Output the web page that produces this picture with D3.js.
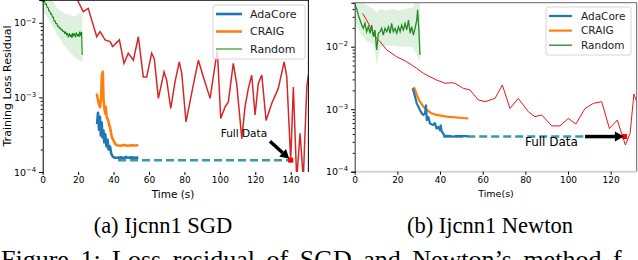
<!DOCTYPE html>
<html>
<head>
<meta charset="utf-8">
<script src="https://cdn.jsdelivr.net/npm/d3@7"></script>
<style>
body { margin: 0; background: #fff; }
svg { display: block; font-family: "DejaVu Sans", sans-serif; }
</style>
</head>
<body>
<svg width="638" height="260"></svg>
<script>
// ---- data: (time s, loss residual) ----
const sgdFull = [[19,2.5e-2],[20.1,1.91e-2],[22.9,1.41e-2],[25.7,1.56e-2],[30.5,6.5e-3],[32.4,7.6e-3],[35.2,5.9e-3],[38,5.6e-3],[39.5,4.8e-3],[43.3,5.9e-3],[45.9,2.85e-3],[48.3,3.9e-3],[51.2,3.15e-3],[54,6.5e-3],[56.8,1.88e-3],[58.7,1.88e-3],[61.5,3.9e-3],[63,3.3e-3],[65.3,9.7e-4],[68.5,2.2e-3],[70,1.7e-3],[72.3,7.1e-4],[74.7,1.61e-3],[77.1,3.0e-3],[78.5,2.1e-3],[80.9,4.7e-4],[85,1.46e-3],[87.9,3.15e-3],[90.7,1.88e-3],[94.5,9.7e-4],[96.3,1.88e-3],[98.6,4.3e-3],[100.5,5.2e-4],[102.9,7.4e-4],[104.8,8.7e-4],[107.6,2.85e-3],[109.5,1.54e-3],[112.4,2.8e-4],[114.2,7.4e-4],[116.1,1.32e-3],[118,1.99e-3],[119.9,5.8e-4],[121.7,1.54e-3],[123.7,1.99e-3],[126.1,4.9e-4],[129.3,8.3e-4],[133,1.32e-3],[136.3,3.0e-3],[137.8,1.88e-3],[140,1.44e-4],[141.5,1.38e-3],[143.4,8e-5],[145.3,3.3e-4],[147.1,8e-5],[149.1,1.38e-3],[150,2e-3]];
const sgdRandom = [[0,2.1e-2],[0.5,1.9e-2],[1,2.0e-2],[1.5,1.75e-2],[2,1.8e-2],[2.5,1.6e-2],[3,1.62e-2],[3.5,1.42e-2],[4,1.45e-2],[4.5,1.3e-2],[5,1.33e-2],[5.5,1.18e-2],[6,1.2e-2],[6.5,1.04e-2],[7,1.07e-2],[7.5,9.6e-3],[8,9.9e-3],[8.5,8.8e-3],[9,9.1e-3],[9.5,8.3e-3],[10,8.6e-3],[10.5,7.9e-3],[11,8.2e-3],[11.5,7.5e-3],[12,7.8e-3],[12.5,7.1e-3],[13,7.6e-3],[13.5,6.8e-3],[14,7.3e-3],[14.5,6.4e-3],[15,7.2e-3],[15.5,6.5e-3],[16,7.0e-3],[16.5,6.3e-3],[17,7.3e-3],[17.5,6.6e-3],[18,7.2e-3],[18.5,6.4e-3],[19,7.4e-3],[19.5,6.6e-3],[20,7.1e-3],[20.5,6.5e-3],[21,7.6e-3],[21.5,6.7e-3],[22,7.5e-3],[22.3,3.7e-3]];
const sgdBandT = [0,2,4,6,8,10,12,14,16,18,20,22,22.4];
const sgdBandHi = [2.6e-2,2.5e-2,2.2e-2,1.9e-2,1.6e-2,1.45e-2,1.35e-2,1.3e-2,1.25e-2,1.2e-2,1.3e-2,1.4e-2,1.2e-2];
const sgdBandLo = [1.5e-2,1.25e-2,1.05e-2,8.5e-3,7.0e-3,6.0e-3,5.0e-3,4.4e-3,3.9e-3,3.5e-3,3.2e-3,3.0e-3,2.9e-3];
const sgdAdaCore = [[30.7,4.4e-4],[31.2,6.2e-4],[31.8,3.7e-4],[32.3,5.5e-4],[32.8,3.1e-4],[33.3,4.6e-4],[33.8,2.9e-4],[34.3,3.6e-4],[34.8,2.5e-4],[35.3,3.2e-4],[36,2.2e-4],[36.6,2.7e-4],[37.2,2.0e-4],[38,2.2e-4],[38.7,1.75e-4],[39.5,1.62e-4],[40.5,1.56e-4],[42,1.55e-4],[44,1.57e-4],[46,1.54e-4],[47,1.6e-4],[48,1.55e-4],[50,1.57e-4],[52,1.55e-4],[54,1.56e-4]];
const sgdCraig = [[30.5,1.13e-3],[31.2,9.2e-4],[31.8,8e-4],[32.4,7.4e-4],[33,1.0e-3],[33.4,2.0e-3],[33.9,2.2e-3],[34.3,1.0e-3],[34.6,8e-4],[35.2,6.1e-4],[35.6,7.5e-4],[36.1,5.5e-4],[37,4.9e-4],[37.5,4.3e-4],[38,4.0e-4],[39,2.95e-4],[39.9,2.67e-4],[40.8,2.4e-4],[41.8,2.28e-4],[44,2.25e-4],[46,2.3e-4],[48,2.25e-4],[50,2.28e-4],[52,2.27e-4],[54,2.28e-4]];
const sgdDash = [[42.5,1.44e-4],[140,1.44e-4]];
const sgdFullPoint = [140,1.44e-4];

const newtonFull = [[3.75,3.4e-2],[5.6,2.67e-2],[7.2,2.09e-2],[9.5,1.45e-2],[11.9,1.2e-2],[15,8.9e-3],[19.7,6.9e-3],[24.4,5.75e-3],[29.1,4.5e-3],[32.2,3.75e-3],[35.3,3.3e-3],[38.4,2.93e-3],[42.3,2.6e-3],[45.5,2.65e-3],[47,2.6e-3],[50.9,2.16e-3],[54.1,2.03e-3],[57.9,1.41e-3],[61.1,1.32e-3],[65.8,1.49e-3],[69.2,2.44e-3],[72.8,1.03e-3],[76.7,1.49e-3],[81.4,9.1e-4],[84.5,7.6e-4],[87.7,8.1e-4],[92.4,5.4e-4],[96.2,5.4e-4],[100.1,7.1e-4],[103.7,5.8e-4],[108,1.03e-3],[111.9,1.24e-3],[115.8,1.32e-3],[119.4,4.9e-4],[123.1,6.7e-4],[126.9,2.67e-4],[129.1,4.1e-4],[130.9,1.75e-3],[132.2,1.32e-3]];
const newtonRandomT = [0.1,0.9,1.7,2.5,3.3,4.05,4.8,5.6,6.4,7.2,8.0,8.7,9.5,10.3,11.1,11.9,12.6,13.4,14.2,15.0,15.8,16.6,17.3,18.1,18.9,19.7,20.5,21.3,22.0,22.8,23.6,24.4,25.2,26.0,26.7,27.5,28.3,29.1,29.5,30.1,30.6];
const newtonRandomV = [4.65e-2,4.1e-2,3.2e-2,2.67e-2,2.22e-2,1.97e-2,2.36e-2,1.74e-2,2.09e-2,1.64e-2,2.22e-2,1.45e-2,1.85e-2,8.9e-3,1.64e-2,1.74e-2,1.97e-2,1.54e-2,1.97e-2,1.74e-2,2.09e-2,1.64e-2,2.36e-2,1.74e-2,1.97e-2,1.64e-2,2.09e-2,1.74e-2,2.22e-2,1.85e-2,2.36e-2,1.85e-2,2.67e-2,1.64e-2,2.09e-2,1.54e-2,1.97e-2,2.67e-2,3.9e-2,1.85e-2,7.4e-3];
const newtonBandT = [0,3,6,9,10.3,12,15,18,21,24,27,29.5,30.6];
const newtonBandHi = [6e-2,5.5e-2,4.5e-2,4e-2,3.5e-2,4e-2,3.8e-2,4e-2,3.8e-2,4e-2,4.2e-2,6e-2,5e-2];
const newtonBandLo = [2.5e-2,1.6e-2,1.2e-2,1.1e-2,5e-3,1.0e-2,1.05e-2,1.05e-2,1.0e-2,1.0e-2,1.0e-2,7e-3,5.7e-3];
const newtonAdaCore = [[27.2,2.16e-3],[28.3,1.58e-3],[29.1,1.24e-3],[30.6,9.7e-4],[31.5,8.5e-4],[32.2,8.1e-4],[33,8.6e-4],[33.4,1.15e-3],[33.8,6.7e-4],[34.5,7.5e-4],[35.3,5.9e-4],[36.8,5.6e-4],[37.6,6.0e-4],[38.4,4.9e-4],[39.2,5.2e-4],[40,4.6e-4],[40.3,5.5e-4],[40.8,4.4e-4],[42.3,3.7e-4],[44,3.75e-4],[46,3.65e-4],[48,3.7e-4],[50,3.7e-4],[53.3,3.7e-4]];
const newtonCraig = [[27.5,2.24e-3],[28.2,2.1e-3],[29.1,1.69e-3],[30.6,1.32e-3],[32.2,1.1e-3],[33.8,9.7e-4],[36.1,8.6e-4],[38.4,8.1e-4],[43.1,7.6e-4],[53.3,7.1e-4]];
const newtonDash = [[41.5,3.65e-4],[126.5,3.65e-4]];
const newtonFullPoint = [126.5,3.65e-4];

const legendNames = ["AdaCore", "CRAIG", "Random"];
const xTicksSgd = [0,20,40,60,80,100,120,140];
const xTicksNewton = [0,20,40,60,80,100,120];
const decades = [1e-4, 1e-3, 1e-2];

const svg = d3.select("svg");
const zip = (t, v) => t.map((d, i) => [d, v[i]]);

function superLabel(sel) {
	sel.each(function (d) {
		const t = d3.select(this).text(null);
		t.append("tspan").text("10");
		t.append("tspan").attr("dy", "-0.55em").attr("font-size", "0.72em").text("\u2212" + Math.round(-Math.log10(d)));
	});
}

function arrow(g, x1, y1, x2, y2) {
	const ang = Math.atan2(y2 - y1, x2 - x1), L = 9, W = 5;
	const bx = x2 - L * Math.cos(ang), by = y2 - L * Math.sin(ang);
	g.append("line").attr("x1", x1).attr("y1", y1).attr("x2", bx).attr("y2", by)
		.attr("stroke", "#000").attr("stroke-width", 3.5);
	const px = -Math.sin(ang) * W, py = Math.cos(ang) * W;
	g.append("path")
		.attr("d", `M${x2},${y2}L${bx + px},${by + py}L${bx - px},${by - py}Z`)
		.attr("fill", "#000");
}

function panel(c) {
	const x = d3.scaleLinear().domain(c.xDomain).range(c.xRange);
	const y = d3.scaleLog().domain(c.yDomain).range(c.yRange);
	const g = svg.append("g");
	const line = d3.line().x(d => x(d[0])).y(d => y(d[1]));
	g.append("clipPath").attr("id", c.id).append("rect")
		.attr("x", c.xRange[0]).attr("y", c.yRange[1])
		.attr("width", c.xRange[1] - c.xRange[0]).attr("height", c.yRange[0] - c.yRange[1]);
	const plot = g.append("g").attr("clip-path", `url(#${c.id})`);

	// random band + line
	const band = d3.area().x(d => x(d[0])).y0(d => y(d[1])).y1(d => y(d[2]));
	plot.append("path").datum(c.bandT.map((t, i) => [t, c.bandLo[i], c.bandHi[i]]))
		.attr("d", band).attr("fill", "#7cc47c").attr("opacity", 0.25);
	plot.append("path").datum(c.full).attr("d", line)
		.attr("fill", "none").attr("stroke", c.redColor).attr("stroke-width", c.redWidth);
	plot.append("path").datum(c.random).attr("d", line)
		.attr("fill", "none").attr("stroke", c.greenColor).attr("stroke-width", c.greenWidth);
	plot.append("path").datum(c.dash).attr("d", line)
		.attr("fill", "none").attr("stroke", "#3a9b9e").attr("stroke-width", 2.4).attr("stroke-dasharray", "8,4");
	plot.append("path").datum(c.craig).attr("d", line)
		.attr("fill", "none").attr("stroke", "#ff7f0e").attr("stroke-width", c.thick).attr("stroke-linejoin", "round");
	plot.append("path").datum(c.ada).attr("d", line)
		.attr("fill", "none").attr("stroke", "#1f77b4").attr("stroke-width", c.thick).attr("stroke-linejoin", "round");
	plot.append("rect")
		.attr("x", x(c.point[0]) - 2.5).attr("y", y(c.point[1]) - 2.5)
		.attr("width", 5).attr("height", 5).attr("fill", "#ff0000");

	// spines
	const [x0, x1] = c.xRange, [yb, yt] = c.yRange;
	g.append("line").attr("x1", x0).attr("x2", x1).attr("y1", yt).attr("y2", yt).attr("stroke", c.topColor).attr("stroke-width", c.topWidth);
	g.append("line").attr("x1", x1).attr("x2", x1).attr("y1", yt).attr("y2", yb).attr("stroke", c.topColor).attr("stroke-width", 1);
	if (c.bottomColor) g.append("line").attr("x1", x0).attr("x2", x1).attr("y1", yb).attr("y2", yb).attr("stroke", c.bottomColor).attr("stroke-width", 2);

	// y axis
	const ya = g.append("g").attr("transform", `translate(${x0},0)`)
		.call(d3.axisLeft(y).tickValues(decades).tickSize(3.5).tickPadding(3));
	ya.select(".domain").attr("stroke", c.leftColor);
	ya.selectAll(".tick text").attr("font-size", 9.5).attr("font-family", "DejaVu Sans").call(superLabel);
	const minors = y.ticks().filter(v => decades.indexOf(v) < 0 && v >= c.yDomain[0] && v <= c.yDomain[1]);
	const ym = g.append("g").attr("transform", `translate(${x0},0)`)
		.call(d3.axisLeft(y).tickValues(minors).tickSize(2).tickFormat(""));
	ym.select(".domain").remove();

	// x axis
	const xa = g.append("g").attr("transform", `translate(0,${yb})`)
		.call(d3.axisBottom(x).tickValues(c.xTicks).tickSize(3).tickPadding(2));
	xa.select(".domain").remove();
	xa.selectAll(".tick text").attr("font-size", 9).attr("font-family", "DejaVu Sans");
	g.append("text").attr("x", c.xLabelX).attr("y", c.xLabelY).attr("text-anchor", "middle")
		.attr("font-size", c.xLabelSize).text(c.xLabel);

	// annotation
	g.append("text").attr("x", x(c.noteAt[0])).attr("y", y(c.noteAt[1]))
		.attr("font-size", c.noteSize).text("Full Data");
	arrow(g, x(c.arrowFrom[0]), y(c.arrowFrom[1]), x(c.arrowTo[0]), y(c.arrowTo[1]));

	// legend
	const lg = g.append("g").attr("transform", `translate(${c.legend[0]},${c.legend[1]})`);
	lg.append("rect").attr("width", c.legend[2]).attr("height", c.legend[3]).attr("rx", 2)
		.attr("fill", "#fff").attr("fill-opacity", 0.8).attr("stroke", "#ccc").attr("stroke-width", 0.8);
	const colors = ["#1f77b4", "#ff7f0e", c.greenColor];
	const widths = [c.thick, c.thick, c.greenWidth];
	legendNames.forEach((n, i) => {
		const yy = c.legendRow0 + i * c.legendStep;
		lg.append("line").attr("x1", 3).attr("x2", 3 + c.legendLine).attr("y1", yy).attr("y2", yy)
			.attr("stroke", colors[i]).attr("stroke-width", widths[i]);
		lg.append("text").attr("x", c.legendText).attr("y", yy).attr("dy", "0.35em")
			.attr("font-size", c.legendSize).attr("fill", "#222").text(n);
	});
}

panel({
	id: "clipA", xDomain: [0, 150], xRange: [42.7, 308.4], yDomain: [1e-4, 2.02e-2], yRange: [172, 0],
	full: sgdFull, random: sgdRandom, bandT: sgdBandT, bandLo: sgdBandLo, bandHi: sgdBandHi,
	ada: sgdAdaCore, craig: sgdCraig, dash: sgdDash, point: sgdFullPoint,
	redColor: "#d62728", redWidth: 1.5, greenColor: "#008000", greenWidth: 1, thick: 2.6,
	topColor: "#000", topWidth: 1.5, leftColor: "#000", bottomColor: null,
	xTicks: xTicksSgd, xLabel: "Time (s)", xLabelX: 173, xLabelY: 198, xLabelSize: 10.5,
	noteAt: [100.5, 2.92e-4], noteSize: 10.5, arrowFrom: [128.3, 2.58e-4], arrowTo: [139.2, 1.5e-4],
	legend: [213, 5, 92, 54], legendRow0: 9, legendStep: 17.5, legendLine: 26, legendText: 37, legendSize: 11
});
panel({
	id: "clipB", xDomain: [0, 132.2], xRange: [354.7, 636.7], yDomain: [1e-4, 5.06e-2], yRange: [171.7, 2.7],
	full: newtonFull, random: zip(newtonRandomT, newtonRandomV), bandT: newtonBandT, bandLo: newtonBandLo, bandHi: newtonBandHi,
	ada: newtonAdaCore, craig: newtonCraig, dash: newtonDash, point: newtonFullPoint,
	redColor: "#e8141c", redWidth: 1, greenColor: "#228b22", greenWidth: 1.3, thick: 2.2,
	topColor: "#666", topWidth: 1, leftColor: "#333", bottomColor: "#d4d4d4",
	xTicks: xTicksNewton, xLabel: "Time(s)", xLabelX: 496, xLabelY: 197, xLabelSize: 9.5,
	noteAt: [79.8, 2.58e-4], noteSize: 12, arrowFrom: [108, 3.65e-4], arrowTo: [126.2, 3.65e-4],
	legend: [546, 7, 85, 48], legendRow0: 9, legendStep: 14.6, legendLine: 23, legendText: 35, legendSize: 10.5
});

// y label + captions
svg.append("text").attr("transform", "translate(11,86) rotate(-90)").attr("text-anchor", "middle")
	.attr("font-size", 11).text("Training Loss Residual");
const serif = "'Liberation Serif', 'Times New Roman', serif";
svg.append("text").attr("x", 163).attr("y", 233).attr("text-anchor", "middle")
	.attr("font-family", serif).attr("font-size", 22.5).text("(a) Ijcnn1 SGD");
svg.append("text").attr("x", 490).attr("y", 233).attr("text-anchor", "middle")
	.attr("font-family", serif).attr("font-size", 22.5).text("(b) Ijcnn1 Newton");
svg.append("text").attr("x", 1).attr("y", 268).attr("font-family", serif).attr("font-size", 26)
	.style("word-spacing", "5px")
	.text("Figure 1: Loss residual of SGD and Newton\u2019s method f");
</script>
</body>
</html>
